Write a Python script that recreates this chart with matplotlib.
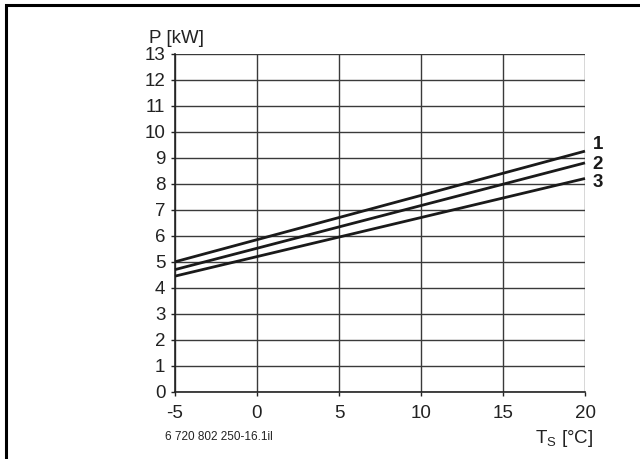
import matplotlib
matplotlib.use("Agg")
import matplotlib.pyplot as plt
from matplotlib import font_manager
from matplotlib.patches import Rectangle

# Outdoor temperature (°C) and heating power (kW) for the three curves
temps = [-5, 20]
curve_1 = [5.0, 9.25]
curve_2 = [4.7, 8.8]
curve_3 = [4.45, 8.2]
curve_labels = ["1", "2", "3"]
x_ticks = [-5, 0, 5, 10, 15, 20]
y_ticks = list(range(0, 14))

names = {f.name for f in font_manager.fontManager.ttflist}
family = "Liberation Sans Narrow" if "Liberation Sans Narrow" in names else "Liberation Sans"
plt.rcParams["font.family"] = [family, "DejaVu Sans"]
plt.rcParams["axes.unicode_minus"] = False

fig = plt.figure(figsize=(6.4, 4.59), dpi=100)
ax = fig.add_axes([175 / 640, 1 - 392 / 459, 410 / 640, 338.5 / 459])

# Page frame (left and top edges)
fig.patches.append(Rectangle((6 / 640, -0.1), 1.2, 1 - 5 / 459 + 0.1,
                             transform=fig.transFigure, fill=False,
                             edgecolor="black", linewidth=2.2))

ax.set_xlim(-5, 20)
ax.set_ylim(0, 13)
ax.set_xticks(x_ticks)
ax.set_yticks(y_ticks)
ax.grid(True, color="#3a3a3a", linewidth=1.0)
ax.set_axisbelow(True)
for side in ["top", "right"]:
    ax.spines[side].set_visible(False)
for side in ["left", "bottom"]:
    ax.spines[side].set_linewidth(1.2)
    ax.spines[side].set_color("#222222")
ax.tick_params(direction="out", length=3, width=1.0, color="#222222",
               labelsize=13.5, labelcolor="#222222")
ax.tick_params(axis="y", pad=4)
ax.tick_params(axis="x", pad=6)

for ys in (curve_1, curve_2, curve_3):
    ax.plot(temps, ys, color="#1a1a1a", linewidth=2.0, solid_capstyle="butt",
            clip_on=False, zorder=3)

label_y = [9.5, 8.72, 8.05]
for lab, yv in zip(curve_labels, label_y):
    ax.text(20.45, yv, lab, fontsize=13.5, fontweight="bold", ha="left",
            va="center", color="#1a1a1a", clip_on=False)

fig.text(149 / 640, 1 - 43 / 459, "P [kW]", fontsize=13.5, ha="left",
         va="baseline", color="#222222")
fig.text(593 / 640, 1 - 443 / 459, r"T$_\mathregular{S}$ [°C]", fontsize=13.5,
         ha="right", va="baseline", color="#222222")
fig.text(165 / 640, 1 - 437 / 459, "6 720 802 250-16.1il", fontsize=8.5,
         ha="left", va="center", color="#222222")

fig.savefig("out.png", dpi=100)
